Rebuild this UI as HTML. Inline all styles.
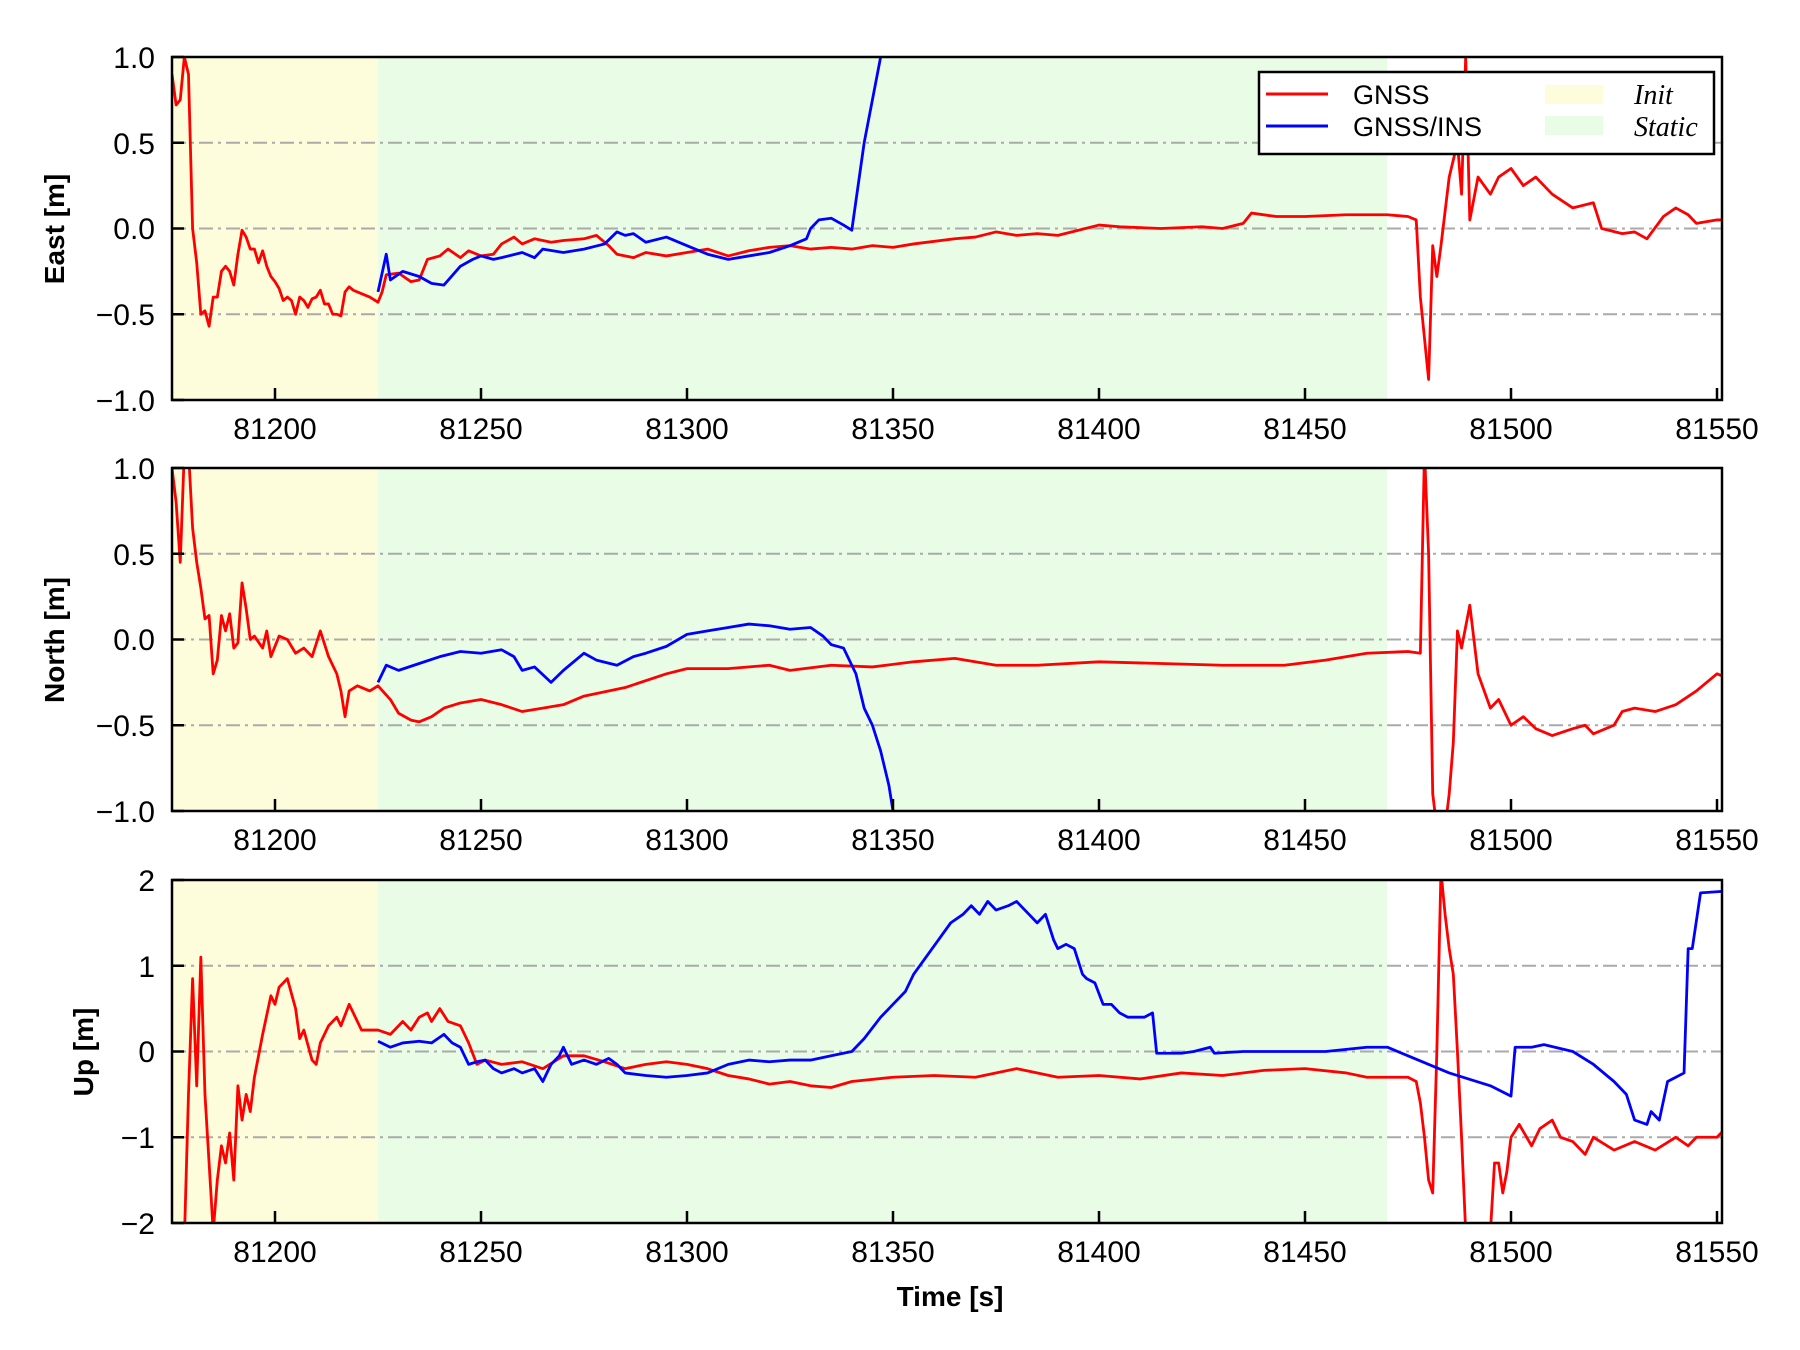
<!DOCTYPE html>
<html><head><meta charset="utf-8"><style>
html,body{margin:0;padding:0;background:#fff}
svg{display:block}
text{font-family:"Liberation Sans",sans-serif;fill:#000}
.t{font-size:30px}
.lab{font-size:28px;font-weight:bold}
.grid{stroke:#aaa;stroke-width:2;stroke-dasharray:14,5,3,5}
.ln{fill:none;stroke-width:2.8;vector-effect:non-scaling-stroke;stroke-linejoin:round}
.r{stroke:#f00}.b{stroke:#00f}
</style></head><body>
<svg width="1800" height="1350" viewBox="0 0 1800 1350">
<defs>
<clipPath id="c1"><rect x="172" y="57" width="1550" height="343"/></clipPath>
<clipPath id="c2"><rect x="172" y="468" width="1550" height="343"/></clipPath>
<clipPath id="c3"><rect x="172" y="880" width="1550" height="343"/></clipPath>
</defs>

<!-- Panel 1 -->
<rect x="172" y="57" width="206" height="343" fill="#fdfddc"/>
<rect x="378" y="57" width="1009" height="343" fill="#e8fce6"/>
<line class="grid" x1="172" x2="1722" y1="142.75" y2="142.75"/>
<line class="grid" x1="172" x2="1722" y1="228.5" y2="228.5"/>
<line class="grid" x1="172" x2="1722" y1="314.25" y2="314.25"/>
<g clip-path="url(#c1)"><g transform="translate(172,228.5) scale(4.12,-171.5)">
<polyline class="ln r" points="0,0.9 1,0.72 2,0.75 3,1.0 4,0.9 5,0.0 6,-0.2 7,-0.5 8,-0.48 9,-0.57 10,-0.4 11,-0.4 12,-0.25 13,-0.22 14,-0.25 15,-0.33 16,-0.15 17,-0.01 18,-0.05 19,-0.12 20,-0.12 21,-0.2 22,-0.13 23,-0.22 24,-0.28 25,-0.31 26,-0.35 27,-0.42 28,-0.4 29,-0.42 30,-0.5 31,-0.4 32,-0.42 33,-0.46 34,-0.41 35,-0.4 36,-0.36 37,-0.44 38,-0.44 39,-0.5 40,-0.5 41,-0.51 42,-0.37 43,-0.34 44,-0.36 46,-0.38 48,-0.4 50,-0.43 51,-0.37 52,-0.27 55,-0.26 58,-0.31 60,-0.3 62,-0.18 65,-0.16 67,-0.12 70,-0.17 72,-0.13 75,-0.16 78,-0.15 80,-0.09 83,-0.05 85,-0.09 88,-0.06 92,-0.08 95,-0.07 100,-0.06 103,-0.04 106,-0.1 108,-0.15 112,-0.17 115,-0.14 120,-0.16 125,-0.14 130,-0.12 135,-0.16 140,-0.13 145,-0.11 150,-0.1 155,-0.12 160,-0.11 165,-0.12 170,-0.1 175,-0.11 180,-0.09 190,-0.06 195,-0.05 200,-0.02 205,-0.04 210,-0.03 215,-0.04 220,-0.01 225,0.02 230,0.01 240,0.0 250,0.01 255,0.0 260,0.03 262,0.09 268,0.07 275,0.07 285,0.08 295,0.08 300,0.07 302,0.05 303,-0.4 305,-0.88 306,-0.1 307,-0.28 308,-0.1 310,0.3 312,0.5 313,0.2 314,1.0 315,0.05 317,0.3 320,0.2 322,0.3 325,0.35 328,0.25 331,0.3 335,0.2 340,0.12 345,0.15 347,0.0 352,-0.03 355,-0.02 358,-0.06 362,0.07 365,0.12 368,0.08 370,0.03 375,0.05 377,0.05"/>
<polyline class="ln b" points="50,-0.37 52,-0.15 53,-0.3 56,-0.25 60,-0.28 63,-0.32 66,-0.33 70,-0.22 73,-0.18 75,-0.16 78,-0.18 80,-0.17 85,-0.14 88,-0.17 90,-0.12 95,-0.14 100,-0.12 105,-0.09 108,-0.02 110,-0.04 112,-0.03 115,-0.08 120,-0.05 125,-0.1 130,-0.15 135,-0.18 140,-0.16 145,-0.14 150,-0.1 154,-0.06 155,0.0 157,0.05 160,0.06 163,0.02 165,-0.01 168,0.5 172,1.0 174,1.2"/>
</g></g>
<rect x="172" y="57" width="1550" height="343" fill="none" stroke="#000" stroke-width="2.5"/>

<!-- Panel 2 -->
<rect x="172" y="468" width="206" height="343" fill="#fdfddc"/>
<rect x="378" y="468" width="1009" height="343" fill="#e8fce6"/>
<line class="grid" x1="172" x2="1722" y1="553.75" y2="553.75"/>
<line class="grid" x1="172" x2="1722" y1="639.5" y2="639.5"/>
<line class="grid" x1="172" x2="1722" y1="725.25" y2="725.25"/>
<g clip-path="url(#c2)"><g transform="translate(172,639.5) scale(4.12,-171.5)">
<polyline class="ln r" points="0,1.0 1,0.8 2,0.45 3,1.1 4,1.1 5,0.65 6,0.45 7,0.3 8,0.12 9,0.14 10,-0.2 11,-0.12 12,0.14 13,0.05 14,0.15 15,-0.05 16,-0.02 17,0.33 18,0.18 19,0.0 20,0.02 22,-0.05 23,0.05 24,-0.1 26,0.02 28,0.0 30,-0.08 32,-0.05 34,-0.1 36,0.05 38,-0.1 40,-0.2 41,-0.3 42,-0.45 43,-0.3 45,-0.27 48,-0.3 50,-0.27 53,-0.35 55,-0.43 58,-0.47 60,-0.48 63,-0.45 66,-0.4 70,-0.37 75,-0.35 80,-0.38 85,-0.42 90,-0.4 95,-0.38 100,-0.33 110,-0.28 120,-0.2 125,-0.17 135,-0.17 145,-0.15 150,-0.18 160,-0.15 170,-0.16 180,-0.13 190,-0.11 200,-0.15 210,-0.15 225,-0.13 240,-0.14 255,-0.15 270,-0.15 280,-0.12 290,-0.08 300,-0.07 303,-0.08 304,1.1 305,0.5 306,-0.9 307,-1.1 309,-1.1 310,-0.9 311,-0.6 312,0.05 313,-0.05 315,0.2 317,-0.2 320,-0.4 322,-0.35 325,-0.5 328,-0.45 331,-0.52 335,-0.56 340,-0.52 343,-0.5 345,-0.55 350,-0.5 352,-0.42 355,-0.4 360,-0.42 365,-0.38 370,-0.3 375,-0.2 377,-0.22"/>
<polyline class="ln b" points="50,-0.25 52,-0.15 55,-0.18 60,-0.14 65,-0.1 70,-0.07 75,-0.08 80,-0.06 83,-0.1 85,-0.18 88,-0.16 92,-0.25 95,-0.18 100,-0.08 103,-0.12 108,-0.15 112,-0.1 115,-0.08 120,-0.04 125,0.03 130,0.05 135,0.07 140,0.09 145,0.08 150,0.06 155,0.07 158,0.02 160,-0.03 163,-0.05 166,-0.2 168,-0.4 170,-0.5 172,-0.65 174,-0.85 175,-1.0 176,-1.1"/>
</g></g>
<rect x="172" y="468" width="1550" height="343" fill="none" stroke="#000" stroke-width="2.5"/>

<!-- Panel 3 -->
<rect x="172" y="880" width="206" height="343" fill="#fdfddc"/>
<rect x="378" y="880" width="1009" height="343" fill="#e8fce6"/>
<line class="grid" x1="172" x2="1722" y1="965.75" y2="965.75"/>
<line class="grid" x1="172" x2="1722" y1="1051.5" y2="1051.5"/>
<line class="grid" x1="172" x2="1722" y1="1137.25" y2="1137.25"/>
<g clip-path="url(#c3)"><g transform="translate(172,1051.5) scale(4.12,-85.75)">
<polyline class="ln r" points="3,-2.2 4,-0.5 5,0.85 6,-0.4 7,1.1 8,-0.5 9,-1.3 10,-2.1 11,-1.5 12,-1.1 13,-1.3 14,-0.95 15,-1.5 16,-0.4 17,-0.8 18,-0.5 19,-0.7 20,-0.3 22,0.2 24,0.65 25,0.55 26,0.75 28,0.85 30,0.5 31,0.15 32,0.25 34,-0.1 35,-0.15 36,0.1 38,0.3 40,0.4 41,0.3 43,0.55 44,0.45 46,0.25 50,0.25 53,0.2 56,0.35 58,0.25 60,0.4 62,0.45 63,0.35 65,0.5 67,0.35 70,0.3 72,0.1 74,-0.15 76,-0.1 80,-0.15 85,-0.12 90,-0.2 95,-0.05 100,-0.05 105,-0.12 110,-0.2 115,-0.15 120,-0.12 125,-0.15 130,-0.2 135,-0.28 140,-0.32 145,-0.38 150,-0.35 155,-0.4 160,-0.42 165,-0.35 175,-0.3 185,-0.28 195,-0.3 205,-0.2 215,-0.3 225,-0.28 235,-0.32 245,-0.25 255,-0.28 265,-0.22 275,-0.2 285,-0.25 290,-0.3 300,-0.3 302,-0.35 303,-0.6 304,-1.0 305,-1.5 306,-1.65 307,0 308,2.1 309,1.6 310,1.2 311,0.9 312,0 313,-1.0 314,-2.1 318,-2.1 320,-2.1 321,-1.3 322,-1.3 323,-1.65 324,-1.4 325,-1.0 327,-0.85 330,-1.1 332,-0.9 335,-0.8 337,-1.0 340,-1.05 343,-1.2 345,-1.0 350,-1.15 355,-1.05 360,-1.15 365,-1.0 368,-1.1 370,-1.0 375,-1.0 377,-0.9"/>
<polyline class="ln b" points="50,0.12 53,0.05 56,0.1 60,0.12 63,0.1 66,0.2 68,0.1 70,0.05 72,-0.15 74,-0.12 76,-0.1 78,-0.2 80,-0.25 83,-0.2 85,-0.25 88,-0.2 90,-0.35 92,-0.15 94,-0.05 95,0.05 97,-0.15 100,-0.1 103,-0.15 106,-0.08 108,-0.15 110,-0.25 115,-0.28 120,-0.3 125,-0.28 130,-0.25 135,-0.15 140,-0.1 145,-0.12 150,-0.1 155,-0.1 160,-0.05 165,0.0 168,0.15 172,0.4 175,0.55 178,0.7 180,0.9 183,1.1 186,1.3 189,1.5 192,1.6 194,1.7 196,1.6 198,1.75 200,1.65 203,1.7 205,1.75 208,1.6 210,1.5 212,1.6 214,1.3 215,1.2 217,1.25 219,1.2 221,0.9 222,0.85 224,0.8 226,0.55 228,0.55 230,0.45 232,0.4 236,0.4 238,0.45 239,-0.02 245,-0.02 248,0.0 252,0.05 253,-0.02 260,0.0 270,0.0 280,0.0 290,0.05 295,0.05 300,-0.05 310,-0.25 320,-0.4 325,-0.52 326,0.05 330,0.05 333,0.08 340,0.0 345,-0.15 350,-0.35 353,-0.5 355,-0.8 358,-0.85 359,-0.7 361,-0.8 363,-0.35 365,-0.3 367,-0.25 368,1.2 369,1.2 371,1.85 377,1.87"/>
</g></g>
<rect x="172" y="880" width="1550" height="343" fill="none" stroke="#000" stroke-width="2.5"/>

<!-- ticks -->
<g stroke="#000" stroke-width="2.5">
<path d="M275,400v-12M481,400v-12M687,400v-12M893,400v-12M1099,400v-12M1305,400v-12M1511,400v-12M1717,400v-12
M275,811v-12M481,811v-12M687,811v-12M893,811v-12M1099,811v-12M1305,811v-12M1511,811v-12M1717,811v-12
M275,1223v-12M481,1223v-12M687,1223v-12M893,1223v-12M1099,1223v-12M1305,1223v-12M1511,1223v-12M1717,1223v-12
M172,57h12M172,142.75h12M172,228.5h12M172,314.25h12M172,400h12
M172,468h12M172,553.75h12M172,639.5h12M172,725.25h12M172,811h12
M172,880h12M172,965.75h12M172,1051.5h12M172,1137.25h12M172,1223h12"/>
</g>

<g class="t" text-anchor="middle">
<text x="275" y="439">81200</text><text x="481" y="439">81250</text><text x="687" y="439">81300</text><text x="893" y="439">81350</text><text x="1099" y="439">81400</text><text x="1305" y="439">81450</text><text x="1511" y="439">81500</text><text x="1717" y="439">81550</text>
<text x="275" y="850">81200</text><text x="481" y="850">81250</text><text x="687" y="850">81300</text><text x="893" y="850">81350</text><text x="1099" y="850">81400</text><text x="1305" y="850">81450</text><text x="1511" y="850">81500</text><text x="1717" y="850">81550</text>
<text x="275" y="1262">81200</text><text x="481" y="1262">81250</text><text x="687" y="1262">81300</text><text x="893" y="1262">81350</text><text x="1099" y="1262">81400</text><text x="1305" y="1262">81450</text><text x="1511" y="1262">81500</text><text x="1717" y="1262">81550</text>
</g>
<g class="t" text-anchor="end">
<text x="155" y="68">1.0</text><text x="155" y="154">0.5</text><text x="155" y="239">0.0</text><text x="155" y="325">−0.5</text><text x="155" y="411">−1.0</text>
<text x="155" y="479">1.0</text><text x="155" y="565">0.5</text><text x="155" y="650">0.0</text><text x="155" y="736">−0.5</text><text x="155" y="822">−1.0</text>
<text x="155" y="891">2</text><text x="155" y="977">1</text><text x="155" y="1062">0</text><text x="155" y="1148">−1</text><text x="155" y="1234">−2</text>
</g>
<g class="lab" text-anchor="middle">
<text transform="translate(64,229) rotate(-90)">East [m]</text>
<text transform="translate(64,640) rotate(-90)">North [m]</text>
<text transform="translate(93,1052) rotate(-90)">Up [m]</text>
<text x="950" y="1306">Time [s]</text>
</g>

<!-- legend -->
<rect x="1259" y="72" width="455" height="82" fill="#fff" stroke="#000" stroke-width="2.5"/>
<line x1="1266" x2="1328" y1="94" y2="94" stroke="#f00" stroke-width="3"/>
<line x1="1266" x2="1328" y1="126" y2="126" stroke="#00f" stroke-width="3"/>
<text x="1353" y="104" style="font-size:27px">GNSS</text>
<text x="1353" y="136" style="font-size:27px">GNSS/INS</text>
<rect x="1545" y="85" width="58" height="19" fill="#fdfddc"/>
<rect x="1545" y="116" width="58" height="19" fill="#e8fce6"/>
<text x="1634" y="104" style="font-family:'Liberation Serif',serif;font-style:italic;font-size:28px">Init</text>
<text x="1634" y="136" style="font-family:'Liberation Serif',serif;font-style:italic;font-size:28px">Static</text>
</svg>
</body></html>
